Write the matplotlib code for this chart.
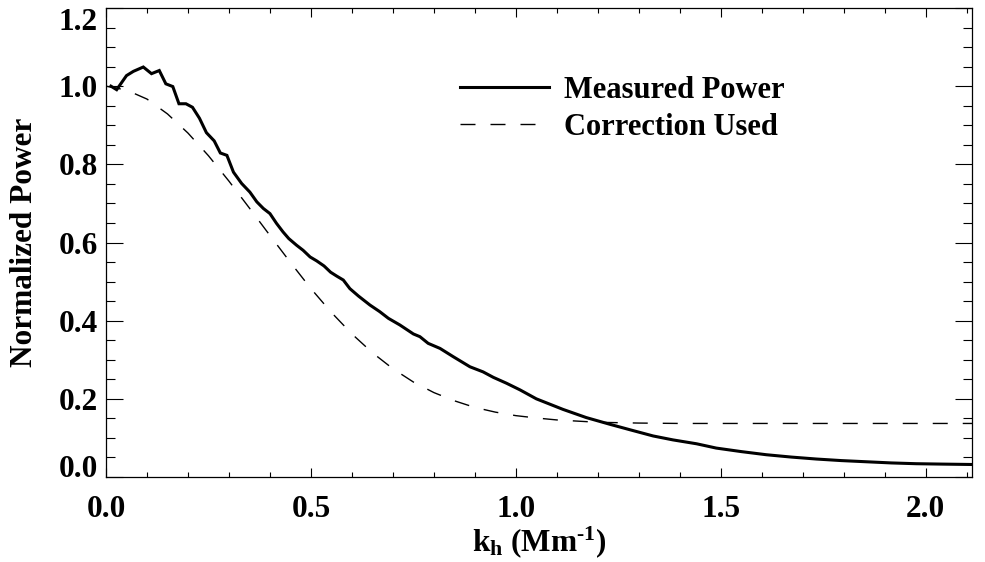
import matplotlib
matplotlib.use("Agg")
import matplotlib.pyplot as plt

plt.rcParams['font.family'] = ['Liberation Serif', 'DejaVu Serif']
plt.rcParams['font.weight'] = 'bold'
plt.rcParams['axes.labelweight'] = 'bold'
plt.rcParams['mathtext.fontset'] = 'custom'
plt.rcParams['mathtext.rm'] = 'Liberation Serif:bold'
plt.rcParams['mathtext.it'] = 'Liberation Serif:bold'
plt.rcParams['mathtext.bf'] = 'Liberation Serif:bold'
plt.rcParams['mathtext.default'] = 'rm'
plt.rcParams['lines.scale_dashes'] = False

# Measured power
k_measured = [0.012, 0.026, 0.036, 0.050, 0.067, 0.091, 0.111, 0.130, 0.146, 0.163,
              0.178, 0.195, 0.211, 0.228, 0.245, 0.264, 0.279, 0.295, 0.311, 0.331,
              0.351, 0.368, 0.384, 0.400, 0.416, 0.432, 0.446, 0.465, 0.481, 0.498,
              0.514, 0.532, 0.548, 0.563, 0.579, 0.595, 0.616, 0.644, 0.668, 0.689,
              0.717, 0.750, 0.766, 0.786, 0.815, 0.847, 0.888, 0.920, 0.945, 0.977,
              1.010, 1.050, 1.115, 1.172, 1.229, 1.278, 1.335, 1.383, 1.441, 1.489,
              1.550, 1.611, 1.672, 1.733, 1.794, 1.855, 1.916, 1.977, 2.040, 2.113]
p_measured = [1.000, 0.991, 1.006, 1.027, 1.038, 1.049, 1.032, 1.040, 1.006, 0.999,
              0.955, 0.955, 0.946, 0.918, 0.881, 0.860, 0.829, 0.823, 0.780, 0.751,
              0.729, 0.704, 0.687, 0.674, 0.649, 0.627, 0.610, 0.593, 0.580, 0.563,
              0.553, 0.540, 0.524, 0.514, 0.504, 0.482, 0.463, 0.440, 0.423, 0.406,
              0.389, 0.366, 0.359, 0.342, 0.329, 0.308, 0.282, 0.269, 0.255, 0.240,
              0.223, 0.200, 0.173, 0.152, 0.135, 0.121, 0.105, 0.095, 0.085, 0.074,
              0.065, 0.057, 0.051, 0.046, 0.042, 0.039, 0.036, 0.034, 0.033, 0.032]

# Correction used
k_corr = [0.0, 0.05, 0.10, 0.15, 0.20, 0.25, 0.30, 0.35, 0.40, 0.45, 0.50, 0.55,
          0.60, 0.65, 0.70, 0.75, 0.80, 0.85, 0.90, 0.95, 1.00, 1.05, 1.10, 1.15,
          1.20, 1.30, 1.40, 1.60, 1.80, 2.00, 2.113]
p_corr = [1.000, 0.990, 0.967, 0.929, 0.880, 0.822, 0.757, 0.688, 0.618, 0.549,
          0.482, 0.421, 0.366, 0.318, 0.277, 0.243, 0.216, 0.195, 0.178, 0.166,
          0.157, 0.151, 0.146, 0.143, 0.140, 0.138, 0.137, 0.137, 0.137, 0.137, 0.137]

x_ticks = [0.0, 0.5, 1.0, 1.5, 2.0]
x_ticklabels = ['0.0', '0.5', '1.0', '1.5', '2.0']
y_ticks = [0.0, 0.2, 0.4, 0.6, 0.8, 1.0, 1.2]
y_ticklabels = ['0.0', '0.2', '0.4', '0.6', '0.8', '1.0', '1.2']

FS = 22.5

fig = plt.figure(figsize=(9.85, 5.62), dpi=100)
ax = fig.add_axes([106/985, 1 - 477/562, (972-106)/985, (477-8)/562])

ax.plot(k_measured, p_measured, color='black', lw=2.2, label='Measured Power',
        solid_joinstyle='miter')
ax.plot(k_corr, p_corr, color='black', lw=1.0, dashes=(10.8, 10.8),
        label='Correction Used')

ax.set_xlim(0, 2.113)
ax.set_ylim(0, 1.2)
ax.set_xticks(x_ticks)
ax.set_xticklabels(x_ticklabels)
ax.set_yticks(y_ticks)
ax.set_yticklabels(y_ticklabels)
ax.set_xticks([i * 0.1 for i in range(22)], minor=True)
ax.set_yticks([i * 0.05 for i in range(25)], minor=True)

ax.tick_params(which='both', direction='in', top=True, right=True, width=0.8,
               labelsize=FS)
ax.tick_params(axis='y', which='major', length=12.5, pad=6)
ax.tick_params(axis='y', which='minor', length=6.3)
ax.tick_params(axis='x', which='major', length=6.5, pad=13)
ax.tick_params(axis='x', which='minor', length=3.3)
for s in ax.spines.values():
    s.set_linewidth(0.9)

ylabels = ax.get_yticklabels()
ylabels[0].set_va('baseline')
ylabels[-1].set_va('top')

ax.set_xlabel('k$_\\mathrm{h}$ (Mm$^{\\text{-}1}$)', fontsize=FS, labelpad=0)
ax.set_ylabel('Normalized Power', fontsize=FS, labelpad=14)

leg = ax.legend(loc='upper left', bbox_to_anchor=(0.409, 0.855), frameon=False,
                fontsize=22, handlelength=2.9, handletextpad=0.5,
                labelspacing=0.25, borderpad=0, borderaxespad=0)

fig.savefig('out.png', dpi=100)
